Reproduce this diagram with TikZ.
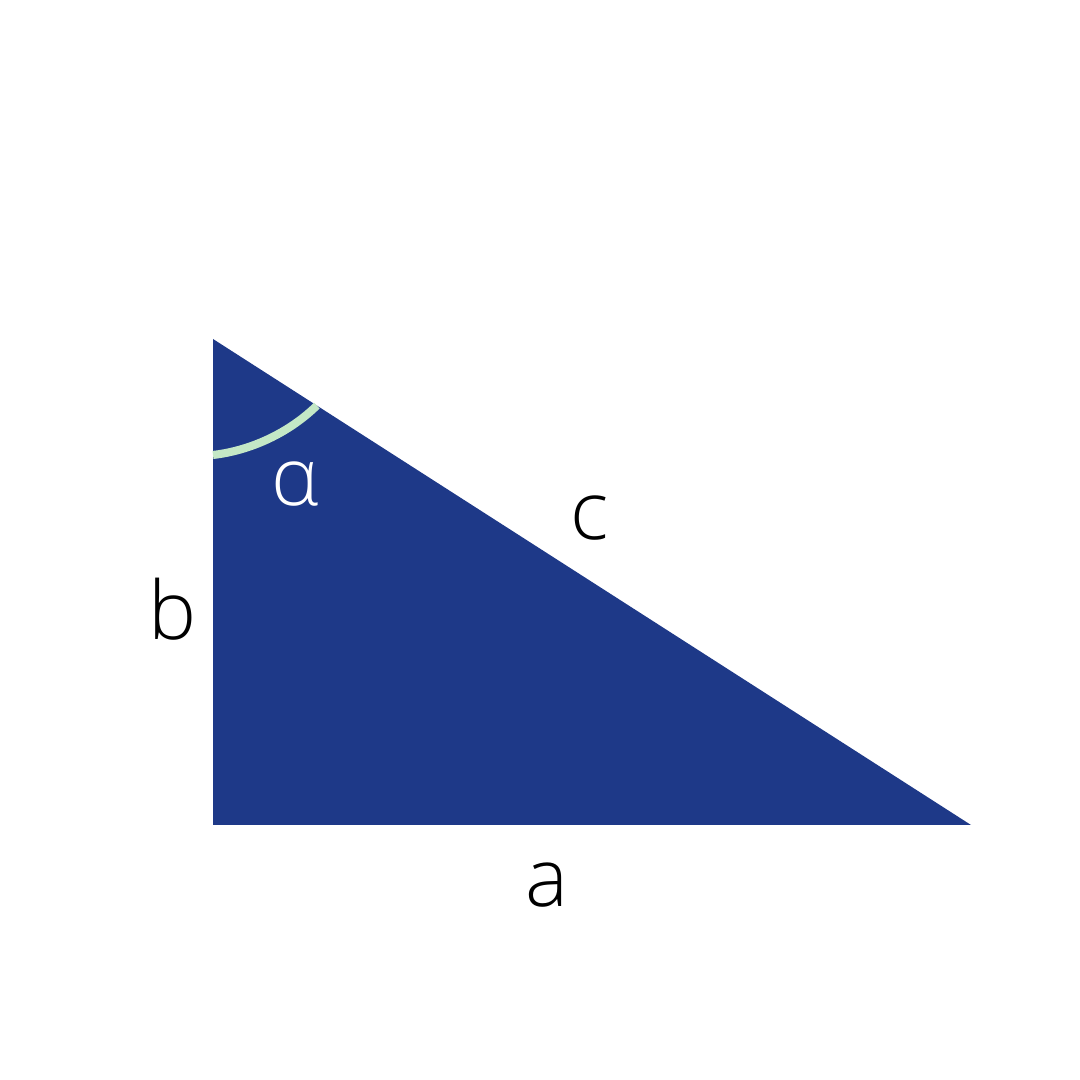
\documentclass[tikz,border=0pt]{standalone}
\usepackage{fontspec}
\setmainfont{Open Sans Light}
\usetikzlibrary{positioning,calc}
\definecolor{triblue}{HTML}{1E3988}
\definecolor{arcgreen}{HTML}{C4E8C6}

\begin{document}
\begin{tikzpicture}[
		side/.style={font=\fontsize{23}{28}\selectfont, text=black},
		angle label/.style={font=\fontsize{23}{28}\selectfont, text=white}]
		\useasboundingbox (0,0) rectangle (10.8,10.8);
		\coordinate (B) at (2.13,2.55);
		\coordinate (A) at (2.13,7.41);
		\coordinate (C) at (9.71,2.55);
		\fill[triblue] (A) -- (B) -- (C) -- cycle;
		% angle mark at the top corner
		\coordinate (arcstart) at (2.13,6.25);
		\coordinate (arcend) at ($(A)!0.137!(C)$);
		\draw[arcgreen, line width=2.3pt] (arcstart) .. controls (2.55,6.30) and (2.92,6.50) .. (arcend);
		\node[angle label] (alpha) at (2.95,5.96) {α};
		\node[side] (c) at (5.90,5.62) {c};
		\node[side] (b) at (1.73,4.71) {b};
		\node[side] (a) at (5.47,1.95) {a};
		\end{tikzpicture}
\end{document}
